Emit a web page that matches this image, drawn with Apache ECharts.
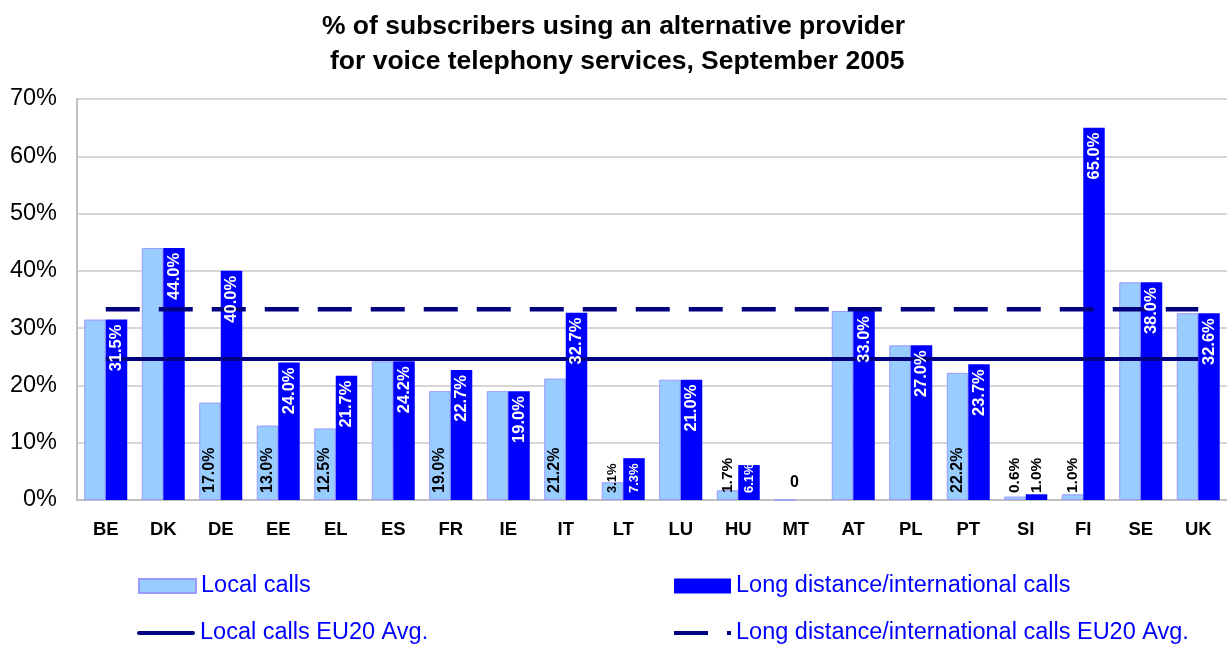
<!DOCTYPE html>
<html>
<head>
<meta charset="utf-8">
<script src="https://cdn.jsdelivr.net/npm/echarts@6/dist/echarts.min.js"></script>
<style>html,body{margin:0;padding:0;background:#fff}#c{width:1227px;height:646px}</style>
</head>
<body>
<div id="c"></div>
<script>
// === data ===
const countries=['BE','DK','DE','EE','EL','ES','FR','IE','IT','LT','LU','HU','MT','AT','PL','PT','SI','FI','SE','UK'];
const localCalls=[31.5,44.0,17.0,13.0,12.5,24.2,19.0,19.0,21.2,3.1,21.0,1.7,0,33.0,27.0,22.2,0.6,1.0,38.0,32.6];
const longCalls=[31.5,44.0,40.0,24.0,21.7,24.2,22.7,19.0,32.7,7.3,21.0,6.1,0,33.0,27.0,23.7,1.0,65.0,38.0,32.6];
const localAvg=24.6;
const longAvg=33.3;
const yTicks=[0,10,20,30,40,50,60,70];

const FONT='"Liberation Sans", Arial, sans-serif';
function pct(v){return v.toFixed(1)+'%'}
function smallSize(v){return v<2.5?15.5:(v<10?13:16)}

// === bar labels (vertical text) ===
function upLabel(v,color,size){
  return {show:true,position:'insideBottom',rotate:90,align:'left',verticalAlign:'middle',
    distance:7,color:color,fontWeight:'bold',fontSize:size,formatter:pct(v)};
}
// local bars: labelled only where they differ from long distance
const localLabels=localCalls.map(function(v,i){
  if(v===longCalls[i]||v===0)return v;
  return {value:v,label:upLabel(v,'#000',smallSize(v))};
});
const longLabels=longCalls.map(function(v){
  if(v===0)return {value:v,label:{show:true,position:'top',rotate:0,offset:[-12,-4],color:'#000',fontWeight:'bold',fontSize:16,formatter:'0'}};
  if(v<2.5)return {value:v,label:upLabel(v,'#000',smallSize(v))};
  if(v<15)return {value:v,label:upLabel(v,'#fff',smallSize(v))};
  return {value:v,label:{show:true,position:'insideTop',rotate:90,align:'right',verticalAlign:'middle',
    distance:5,color:'#fff',fontWeight:'bold',fontSize:16.5,formatter:pct(v)}};
});

const chart=echarts.init(document.getElementById('c'),null,{renderer:'canvas'});
const legTxt={color:'#0000ff',fontSize:23.5,fontFamily:FONT};
const legBase={padding:0,itemGap:0,textStyle:legTxt};
// bars (z1) < avg lines (z2) < labels (z3, on a twin axis so they sit on the same bars)
chart.setOption({
  animation:false,
  textStyle:{fontFamily:FONT},
  title:{text:'% of subscribers using an alternative provider\n for voice telephony services, September 2005',
    left:'center',top:4,textStyle:{fontSize:26.5,fontWeight:'bold',color:'#000',lineHeight:35,fontFamily:FONT}},
  legend:[
    Object.assign({data:[{name:'Local calls',icon:'rect'}],left:138,top:574,itemWidth:57,itemHeight:14},legBase),
    Object.assign({data:[{name:'Long distance/international calls',icon:'rect'}],left:674,top:574,itemWidth:57,itemHeight:15},legBase),
    Object.assign({data:[{name:'Local calls EU20 Avg.',icon:'path://M2,0H56A2,2 0 0 1 56,4H2A2,2 0 0 1 2,0Z'}],left:137,top:621,itemWidth:58,itemHeight:4},legBase),
    Object.assign({data:[{name:'Long distance/international calls EU20 Avg.',icon:'path://M0,0H34V4H0Z M53,0H57V4H53Z'}],left:674,top:621,itemWidth:57,itemHeight:4},legBase)
  ],
  grid:{left:77,top:99,width:1152,bottom:146,containLabel:false},
  xAxis:[
    {type:'category',data:countries,
      axisLine:{lineStyle:{color:'#c0c0c0',width:2}},axisTick:{show:false},
      axisLabel:{color:'#000',fontWeight:'bold',fontSize:18.5,margin:20,fontFamily:FONT}},
    {type:'category',data:countries,position:'bottom',show:false}
  ],
  yAxis:{type:'value',min:yTicks[0],max:yTicks[yTicks.length-1],interval:10,
    axisLine:{show:true,lineStyle:{color:'#c0c0c0',width:2}},axisTick:{show:false},
    axisLabel:{color:'#000',fontSize:23.5,margin:20,formatter:'{value}%',fontFamily:FONT},
    splitLine:{lineStyle:{color:'#c8c8c8',width:1.5}}},
  series:[
    {name:'Local calls',type:'bar',data:localCalls,barWidth:21.5,barGap:'0%',z:1,
      itemStyle:{color:'#99ccff',borderColor:'#9999ff',borderWidth:1}},
    {name:'Long distance/international calls',type:'bar',data:longCalls,barWidth:21.5,z:1,
      itemStyle:{color:'#0000ff'}},
    {name:'Local calls EU20 Avg.',type:'line',data:countries.map(function(){return localAvg}),z:2,
      symbol:'none',lineStyle:{color:'#000080',width:4},itemStyle:{color:'#000080'}},
    {name:'Long distance/international calls EU20 Avg.',type:'line',data:countries.map(function(){return longAvg}),z:2,
      symbol:'none',lineStyle:{color:'#000080',width:4.5,type:[34,19]},itemStyle:{color:'#000080'}},
    {name:'localLabels',type:'bar',xAxisIndex:1,data:localLabels,barWidth:21.5,barGap:'0%',z:3,
      itemStyle:{color:'rgba(0,0,0,0)'},tooltip:{show:false}},
    {name:'longLabels',type:'bar',xAxisIndex:1,data:longLabels,barWidth:21.5,z:3,
      itemStyle:{color:'rgba(0,0,0,0)'},tooltip:{show:false}}
  ]
});
</script>
</body>
</html>
